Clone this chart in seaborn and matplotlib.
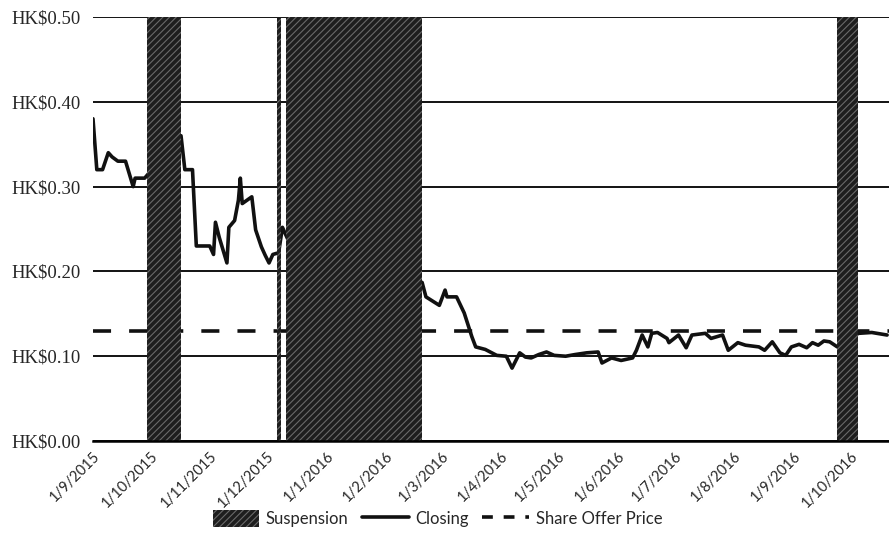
import seaborn as sns
import matplotlib.pyplot as plt
from matplotlib.patches import Patch
from matplotlib.lines import Line2D
import pandas as pd

# closing prices
close_dates = [
    "2015-09-01", "2015-09-03", "2015-09-06", "2015-09-09", "2015-09-11", "2015-09-14",
    "2015-09-18", "2015-09-20", "2015-09-22", "2015-09-23", "2015-09-28",
    "2015-10-17", "2015-10-19", "2015-10-23", "2015-10-25", "2015-11-01", "2015-11-03",
    "2015-11-04", "2015-11-06", "2015-11-10", "2015-11-11", "2015-11-14", "2015-11-16",
    "2015-11-17", "2015-11-18", "2015-11-23", "2015-11-25", "2015-11-28", "2015-11-30",
    "2015-12-02", "2015-12-04", "2015-12-07", "2015-12-09", "2015-12-12",
    "2016-02-20", "2016-02-22", "2016-02-29", "2016-03-03", "2016-03-04", "2016-03-09",
    "2016-03-13", "2016-03-17", "2016-03-19", "2016-03-24", "2016-03-30", "2016-04-04",
    "2016-04-07", "2016-04-11", "2016-04-14", "2016-04-17", "2016-04-21", "2016-04-25",
    "2016-04-29", "2016-05-05", "2016-05-10", "2016-05-16", "2016-05-22",
    "2016-05-24", "2016-05-29", "2016-06-03", "2016-06-09", "2016-06-11", "2016-06-14",
    "2016-06-17", "2016-06-19", "2016-06-22", "2016-06-27", "2016-06-28", "2016-07-03",
    "2016-07-07", "2016-07-10", "2016-07-17", "2016-07-20", "2016-07-26", "2016-07-29",
    "2016-08-03", "2016-08-07", "2016-08-14", "2016-08-17", "2016-08-21", "2016-08-25",
    "2016-08-28", "2016-08-31", "2016-09-04", "2016-09-08", "2016-09-11", "2016-09-14",
    "2016-09-17", "2016-09-20", "2016-09-24", "2016-10-05", "2016-10-12", "2016-10-20",
]
close_prices = [
    0.38, 0.32, 0.32, 0.34, 0.335, 0.33,
    0.33, 0.315, 0.30, 0.31, 0.31,
    0.36, 0.32, 0.32, 0.23, 0.23, 0.22,
    0.258, 0.24, 0.21, 0.252, 0.26, 0.284,
    0.31, 0.28, 0.288, 0.249, 0.229, 0.219,
    0.21, 0.22, 0.222, 0.252, 0.237,
    0.187, 0.17, 0.16, 0.178, 0.17, 0.17,
    0.151, 0.123, 0.111, 0.108, 0.101, 0.10,
    0.086, 0.104, 0.099, 0.098, 0.102, 0.105,
    0.101, 0.10, 0.102, 0.104, 0.105,
    0.092, 0.098, 0.095, 0.098, 0.107, 0.125,
    0.111, 0.127, 0.128, 0.121, 0.116, 0.125,
    0.11, 0.125, 0.127, 0.121, 0.125, 0.107,
    0.116, 0.113, 0.111, 0.107, 0.117, 0.104,
    0.101, 0.111, 0.114, 0.11, 0.116, 0.113,
    0.118, 0.117, 0.111, 0.127, 0.128, 0.125,
]

suspension_start = ["2015-09-29", "2015-12-06", "2015-12-11", "2016-09-24"]
suspension_end = ["2015-10-17", "2015-12-08", "2016-02-20", "2016-10-05"]

offer_price = 0.13

tick_dates = pd.date_range("2015-09-01", "2016-10-01", freq="MS")
y_ticks = [0.0, 0.1, 0.2, 0.3, 0.4, 0.5]

df = pd.DataFrame({"date": pd.to_datetime(close_dates), "close": close_prices})

sns.set_style("white")
plt.rcParams["font.family"] = ["Lato", "DejaVu Sans"]
plt.rcParams["hatch.linewidth"] = 0.8

band_face = "#1e1e1e"
band_hatch = "#6a6a6a"

fig = plt.figure(figsize=(8.89, 5.42), dpi=100)
ax = fig.add_axes([0.1046, 0.1863, 0.8954, 0.7823])

sns.lineplot(data=df, x="date", y="close", ax=ax, color="#111111", lw=2.6, zorder=3)
ax.axhline(offer_price, color="#111111", lw=2.6, linestyle=(0, (5, 5)), zorder=3)

for s, e in zip(suspension_start, suspension_end):
    ax.axvspan(pd.Timestamp(s), pd.Timestamp(e), facecolor=band_face,
               edgecolor=band_hatch, hatch="/////", lw=0, zorder=4)

ax.set_xlim(pd.Timestamp("2015-09-01"), pd.Timestamp("2016-10-21"))
ax.set_ylim(0, 0.5)
ax.set_yticks(y_ticks)
ax.set_yticklabels([f"HK${v:.2f}" for v in y_ticks], family="Liberation Serif", fontsize=13.5)
ax.set_xticks(tick_dates)
ax.set_xticklabels([f"{d.day}/{d.month}/{d.year}" for d in tick_dates],
                   rotation=45, ha="right", rotation_mode="anchor", fontsize=10.5)
ax.tick_params(axis="y", length=0, pad=9)
ax.tick_params(axis="x", direction="out", length=3, width=1.2, color="black", pad=3)

ax.yaxis.grid(True, color="black", lw=1.3)
ax.set_axisbelow(True)
for side in ["left", "top", "right"]:
    ax.spines[side].set_visible(False)
ax.spines["bottom"].set_color("black")
ax.spines["bottom"].set_linewidth(1.8)
ax.spines["bottom"].set_zorder(5)
ax.set_xlabel("")
ax.set_ylabel("")

handles = [
    Patch(facecolor=band_face, edgecolor=band_hatch, hatch="/////", lw=0),
    Line2D([], [], color="#111111", lw=2.6),
    Line2D([], [], color="#111111", lw=2.6, linestyle=(0, (3, 3))),
]
fig.legend(handles, ["Suspension", "Closing", "Share Offer Price"], loc="center",
           bbox_to_anchor=(0.492, 0.044), ncol=3, frameon=False, fontsize=12,
           handlelength=2.8, handleheight=1.2, columnspacing=0.8, handletextpad=0.4)

fig.savefig("out.png", dpi=100)
plt.close(fig)
